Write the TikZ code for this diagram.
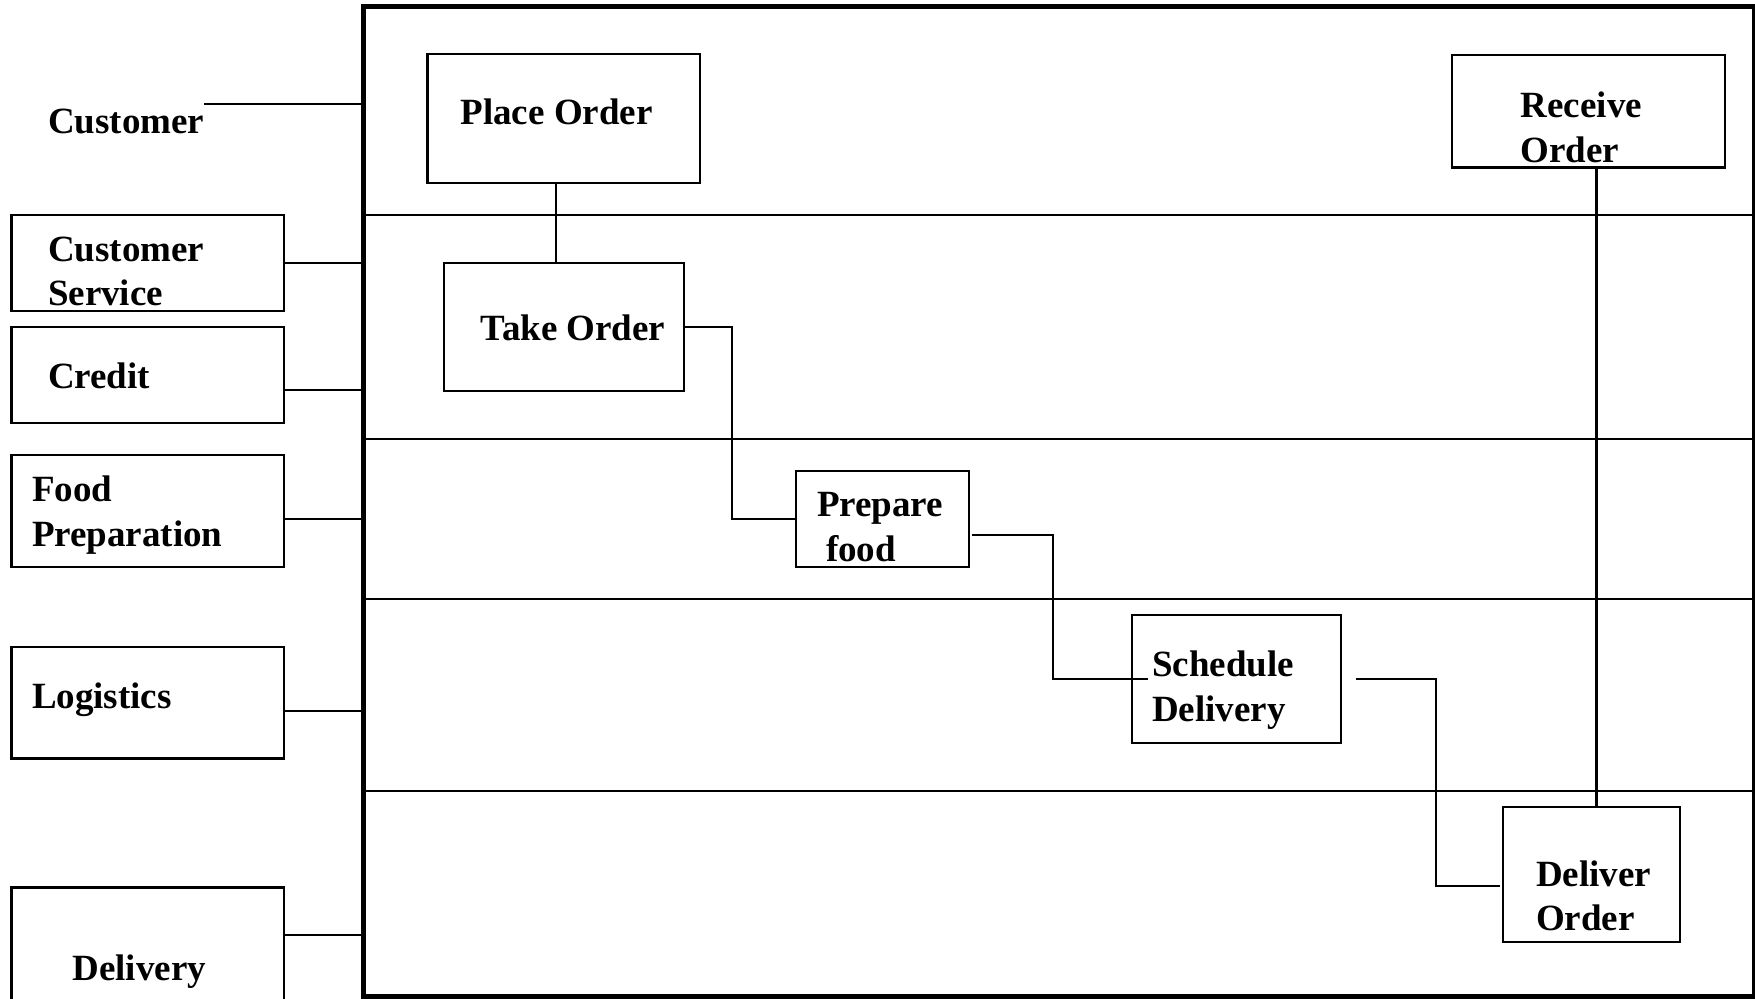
\documentclass[tikz,border=0pt]{standalone}
\usepackage{fontspec}
\setmainfont{Liberation Serif}
\usetikzlibrary{calc}
\begin{document}
\begin{tikzpicture}[x=1pt,y=-1pt,
  box/.style={draw, line width=2.2pt, rectangle, inner sep=0pt, outer sep=0pt},
  lbl/.style={inner sep=0pt, outer sep=0pt, anchor=base west,
              font=\bfseries\fontsize{37}{44.5}\selectfont},
  link/.style={line width=2pt},
  lane/.style={line width=2.2pt}]
\clip (0,0) rectangle (1755,998);
\fill[white] (0,0) rectangle (1755,998);

% pool frame and lane separators
\node[box, line width=5pt, minimum width=1391.5pt, minimum height=989.5pt] (pool) at (1058.75,501.75) {};
\foreach \ly in {215,439,599,791}
  \draw[lane] (pool.west |- 0,\ly) -- (pool.east |- 0,\ly);

% lane title boxes
\node[box, minimum width=272.5pt, minimum height=95.7pt]  (cs)   at (147.75,262.85) {};
\node[box, minimum width=272.5pt, minimum height=96.3pt]  (cr)   at (147.75,374.85) {};
\node[box, minimum width=272.5pt, minimum height=111.4pt] (fp)   at (147.75,511) {};
\node[box, minimum width=272.5pt, minimum height=111.5pt] (lg)   at (147.75,702.75) {};
\node[box, minimum width=272.5pt, minimum height=122.6pt] (dl)   at (147.75,948.7) {};

% lane titles
\node[lbl] (tcust) at (48,133) {Customer};
\node[lbl] (tcs1)  at (48,261) {Customer};
\node[lbl] (tcs2)  at (48,305) {Service};
\node[lbl] (tcr)   at (48,388) {Credit};
\node[lbl] (tfp1)  at (32,501) {Food};
\node[lbl] (tfp2)  at (32,546) {Preparation};
\node[lbl] (tlg)   at (32,708) {Logistics};
\node[lbl] (tdl)   at (72.5,980.5) {Delivery};

% lane titles joined to the pool
\coordinate (ccu) at ($(tcust.north east)+(0,-5)$);
\draw[link] (ccu) -- (ccu -| pool.west);
\draw[link] (cs.east) -- (cs.east -| pool.west);
\coordinate (ccr) at ($(cr.east)+(0,15)$);
\draw[link] (ccr) -- (ccr -| pool.west);
\coordinate (cfp) at ($(fp.east)+(0,7.6)$);
\draw[link] (cfp) -- (cfp -| pool.west);
\coordinate (clg) at ($(lg.east)+(0,8)$);
\draw[link] (clg) -- (clg -| pool.west);
\coordinate (cdl) at ($(dl.north east)+(0,47.6)$);
\draw[link] (cdl) -- (cdl -| pool.west);

% activities
\node[box, minimum width=272.5pt, minimum height=128.7pt] (place) at (563.75,118.65) {};
\node[box, minimum width=240pt,   minimum height=128pt]   (take)  at (564,326.7) {};
\node[box, minimum width=173.2pt, minimum height=96pt]    (prep)  at (882.6,518.7) {};
\node[box, minimum width=208.9pt, minimum height=127.7pt] (sched) at (1236.15,678.85) {};
\node[box, minimum width=273.3pt, minimum height=112pt]   (recv)  at (1588.35,111.4) {};
\node[box, minimum width=176.7pt, minimum height=135pt]   (deliv) at (1591.65,874.5) {};

\node[lbl] (lplace) at (460.5,124)   {Place Order};
\node[lbl] (ltake)  at (480.7,340.7) {Take Order};
\node[lbl] (lprep1) at (817,516.7)   {Prepare};
\node[lbl] (lprep2) at (826,561.7)   {food};
\node[lbl] (lsch1)  at (1152,676.7)  {Schedule};
\node[lbl] (lsch2)  at (1152,721.7)  {Delivery};
\node[lbl] (lrec1)  at (1520.7,117.8) {Receive};
\node[lbl] (lrec2)  at (1520.7,162.3) {Order};
\node[lbl] (ldel1)  at (1536,886)    {Deliver};
\node[lbl] (ldel2)  at (1536,930.6)  {Order};

% flow
\coordinate (pt) at ($(place.south)+(-8,0)$);
\draw[link] (pt) -- (pt |- take.north);
\draw[link] (take.east) -- ++(48,0) |- (prep.west);
\coordinate (ps) at ($(prep.east)+(3,16.3)$);
\coordinate (sp) at ($(sched.west)+(16,0)$);
\draw[link] (ps) -- ++(80.4,0) |- (sp);
\coordinate (sd) at ($(sched.east)+(15.4,0)$);
\coordinate (ds) at ($(deliv.west)+(-3,11.5)$);
\draw[link] (sd) -- ++(79.7,0) |- (ds);
\coordinate (rd) at ($(recv.south)+(8,0)$);
\draw[link, line width=2.5pt] (rd) -- (rd |- deliv.north);
\end{tikzpicture}
\end{document}
